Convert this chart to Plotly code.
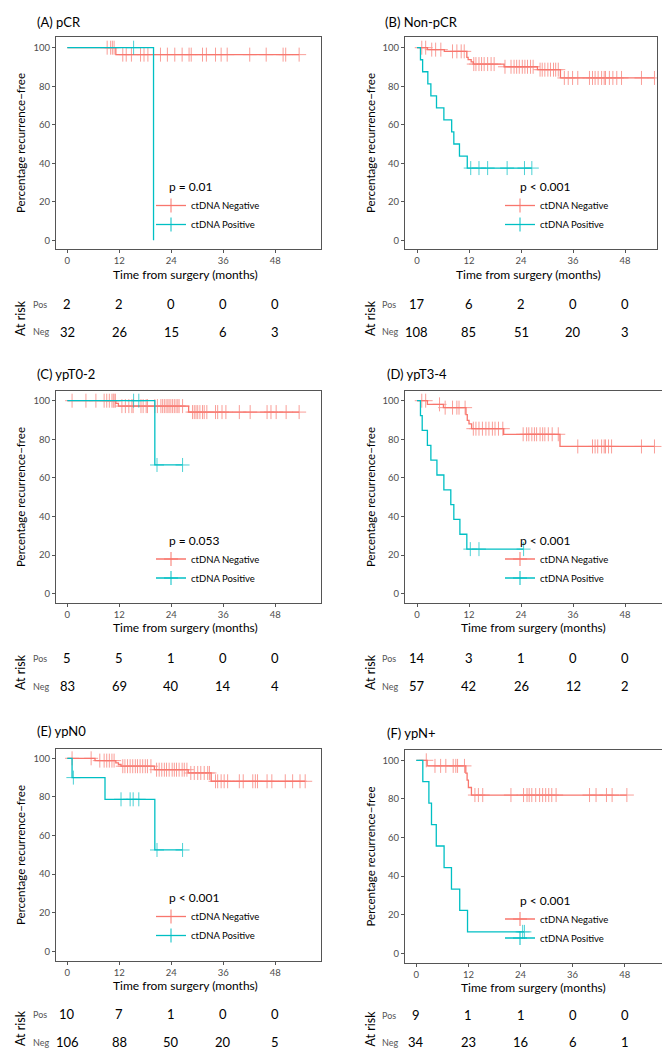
import plotly.graph_objects as go

W, H = 670, 1050
RED = "#F8766D"
CYAN = "#00BFC4"
FONT = "Lato"

x_ticks = [0, 12, 24, 36, 48]
y_ticks = [0, 20, 40, 60, 80, 100]
risk_times = [0, 12, 24, 36, 48]

# ---------------- (A) pCR ----------------
A_neg_event_t = [11.2]
A_neg_event_s = [96.4]
A_neg_cens_t = [9.2, 10.0, 10.4, 10.8, 12.8, 13.6, 14.8, 16.9, 17.7, 18.6, 21.5, 23.1, 24.8,
                26.5, 28.1, 28.6, 31.2, 32.1, 34.2, 35.5, 36.9, 42.1, 45.9, 49.8, 50.4, 53.5]
A_pos_event_t = [19.9]
A_pos_event_s = [0]
A_pos_cens_t = [15.3]
A_risk_pos = [2, 2, 0, 0, 0]
A_risk_neg = [32, 26, 15, 6, 3]
A_p = "p = 0.01"

# ---------------- (B) Non-pCR ----------------
B_neg_event_t = [2.4, 6.3, 11.5, 11.8, 12.5, 13.0, 20.1, 27.8, 33.1]
B_neg_event_s = [99.0, 98.1, 95.0, 93.8, 92.6, 91.5, 90.1, 88.6, 84.3]
B_neg_cens_t = [1.1, 2.0, 3.4, 4.3, 5.5, 8.2, 9.2, 10.2, 10.9,
                13.1, 13.6, 14.3, 14.9, 15.5, 16.3, 17.1, 17.8,
                20.3, 21.7, 22.4, 23.0, 23.6, 24.3, 24.9, 25.5, 26.2, 26.8,
                28.4, 28.9, 29.5, 30.2, 30.8, 31.5, 32.0, 32.6,
                34.0, 34.9, 35.9, 37.1, 39.8, 40.5, 41.1, 41.8, 42.6, 43.2, 43.5, 44.4,
                45.2, 46.1, 47.2, 51.8, 54.8]
B_pos_event_t = [0.8, 1.3, 2.5, 3.2, 4.5, 6.2, 8.0, 8.5, 9.8, 11.6]
B_pos_event_s = [93.75, 87.5, 81.25, 75.0, 68.75, 62.5, 56.25, 50.0, 43.75, 37.5]
B_pos_cens_t = [12.4, 14.3, 16.3, 20.8, 24.8, 26.5]
B_risk_pos = [17, 6, 2, 0, 0]
B_risk_neg = [108, 85, 51, 20, 3]
B_p = "p < 0.001"

# ---------------- (C) ypT0-2 ----------------
C_neg_event_t = [11.2, 11.8, 28.0]
C_neg_event_s = [98.6, 97.2, 94.1]
C_neg_cens_t = [1.1, 4.3, 6.6, 8.5, 9.1, 9.7, 10.3, 10.6, 10.8, 11.1,
                12.6, 13.4, 14.2, 14.9, 15.2, 17.0, 17.5, 18.2, 18.5, 20.2, 20.8, 21.6, 22.0,
                22.4, 22.8, 23.2, 23.5, 23.9, 24.3, 24.7, 25.1, 25.5, 25.8, 26.6,
                28.9, 29.3, 29.7, 30.1, 30.6, 31.2, 31.6, 32.2, 34.2, 34.7, 35.7, 36.6,
                39.7, 42.2, 46.1, 47.0, 48.2, 50.5, 53.5]
C_pos_event_t = [20.2]
C_pos_event_s = [66.7]
C_pos_cens_t = [15.3, 16.5, 20.7, 26.6]
C_risk_pos = [5, 5, 1, 0, 0]
C_risk_neg = [83, 69, 40, 14, 4]
C_p = "p = 0.053"

# ---------------- (D) ypT3-4 ----------------
D_neg_event_t = [2.4, 6.1, 11.3, 11.6, 12.0, 12.6, 20.0, 33.0]
D_neg_event_s = [98.1, 96.4, 92.8, 89.8, 88.0, 85.5, 82.6, 76.3]
D_neg_cens_t = [1.1, 2.0, 5.2, 6.5, 8.2, 9.2, 9.7, 11.1,
                13.0, 13.6, 14.3, 15.1, 15.9, 16.6, 17.4, 18.0, 18.8, 19.8,
                24.5, 25.3, 25.8, 26.5, 27.1, 27.6, 28.4, 29.0, 29.5, 30.3, 31.2, 32.6,
                37.1, 40.5, 41.1, 41.7, 42.6, 43.2, 43.5, 44.2, 44.9, 51.8, 54.8]
D_pos_event_t = [0.8, 1.2, 2.4, 3.2, 4.6, 6.2, 7.8, 8.5, 9.9, 11.5]
D_pos_event_s = [92.3, 84.6, 76.9, 69.2, 61.5, 53.8, 46.2, 38.5, 30.8, 23.1]
D_pos_cens_t = [12.3, 14.3, 24.6]
D_risk_pos = [14, 3, 1, 0, 0]
D_risk_neg = [57, 42, 26, 12, 2]
D_p = "p < 0.001"

# ---------------- (E) ypN0 ----------------
E_neg_event_t = [6.4, 11.2, 11.8, 12.4, 20.1, 27.9, 33.2]
E_neg_event_s = [98.8, 97.6, 96.8, 95.9, 94.1, 92.4, 88.1]
E_neg_cens_t = [1.1, 5.5, 7.5, 8.5, 9.1, 9.7, 10.3, 10.8,
                12.8, 13.3, 13.9, 14.5, 15.1, 15.7, 16.2, 16.8, 17.4, 18.0, 18.5, 19.3,
                20.6, 21.2, 21.8, 22.4, 22.9, 23.5, 24.2, 24.7, 25.2, 25.8, 26.5, 27.0, 27.6,
                28.5, 29.3, 30.1, 30.8, 31.6, 32.4, 32.8,
                34.2, 34.7, 35.5, 36.2, 37.0, 39.7, 40.6, 42.8, 43.4, 43.9, 46.1, 47.2,
                50.3, 52.0, 53.7, 54.9]
E_pos_event_t = [1.1, 8.7, 20.2]
E_pos_event_s = [90.0, 78.75, 52.5]
E_pos_cens_t = [1.4, 12.4, 14.5, 15.2, 16.5, 20.7, 26.6]
E_risk_pos = [10, 7, 1, 0, 0]
E_risk_neg = [106, 88, 50, 20, 5]
E_p = "p < 0.001"

# ---------------- (F) ypN+ ----------------
F_neg_event_t = [2.5, 11.4, 11.7, 12.0, 12.7]
F_neg_event_s = [97.1, 93.4, 89.7, 85.9, 82.0]
F_neg_cens_t = [2.3, 4.3, 5.6, 6.8, 8.5, 9.1, 9.5, 11.1,
                13.5, 14.3, 15.3, 21.8, 24.7, 25.5, 26.0, 26.6, 27.5, 28.4, 29.1, 29.8,
                30.5, 31.2, 32.2, 39.9, 41.4, 43.8, 45.1, 48.5]
F_pos_event_t = [1.5, 2.9, 3.5, 4.6, 6.4, 8.1, 10.0, 11.8]
F_pos_event_s = [88.9, 77.8, 66.7, 55.6, 44.4, 33.3, 22.2, 11.1]
F_pos_cens_t = [24.5, 24.9]
F_risk_pos = [9, 1, 1, 0, 0]
F_risk_neg = [34, 23, 16, 6, 1]
F_p = "p < 0.001"

# ---------------- layout helpers (pixel geometry) ----------------
def PX(p):
    return p / W

def PY(p):
    return 1 - p / H

panels = [
    dict(title="(A) pCR", neg=(A_neg_event_t, A_neg_event_s, A_neg_cens_t),
         pos=(A_pos_event_t, A_pos_event_s, A_pos_cens_t), rp=A_risk_pos, rn=A_risk_neg, p=A_p,
         box=(48, 313, 29, 241), x0=59.3, x48=267.3, y100=39.7, y0=232.3,
         tpos=(27, 14), ytx=12, xty=266, rows=(296, 324), lab_x=23, p_xy=(159, 178),
         leg=(183, 207)),
    dict(title="(B) Non-pCR", neg=(B_neg_event_t, B_neg_event_s, B_neg_cens_t),
         pos=(B_pos_event_t, B_pos_event_s, B_pos_cens_t), rp=B_risk_pos, rn=B_risk_neg, p=B_p,
         box=(397, 649, 29, 241), x0=409, x48=617, y100=39.7, y0=232.3,
         tpos=(375, 14), ytx=362, xty=266, rows=(296, 324), lab_x=372, p_xy=(510, 178),
         leg=(532, 207)),
    dict(title="(C) ypT0-2", neg=(C_neg_event_t, C_neg_event_s, C_neg_cens_t),
         pos=(C_pos_event_t, C_pos_event_s, C_pos_cens_t), rp=C_risk_pos, rn=C_risk_neg, p=C_p,
         box=(48, 313, 383, 595), x0=59.3, x48=267.3, y100=392.7, y0=585.7,
         tpos=(27, 366), ytx=12, xty=619, rows=(650, 678), lab_x=23, p_xy=(159, 532),
         leg=(183, 560.5)),
    dict(title="(D) ypT3-4", neg=(D_neg_event_t, D_neg_event_s, D_neg_cens_t),
         pos=(D_pos_event_t, D_pos_event_s, D_pos_cens_t), rp=D_risk_pos, rn=D_risk_neg, p=D_p,
         box=(397, 660, 383, 595), x0=409, x48=617, y100=392.7, y0=585.7,
         tpos=(377, 366), ytx=362, xty=619, rows=(650, 678), lab_x=372, p_xy=(510, 532),
         leg=(532, 560.5)),
    dict(title="(E) ypN0", neg=(E_neg_event_t, E_neg_event_s, E_neg_cens_t),
         pos=(E_pos_event_t, E_pos_event_s, E_pos_cens_t), rp=E_risk_pos, rn=E_risk_neg, p=E_p,
         box=(48, 313, 741, 953), x0=59.3, x48=267.3, y100=750.3, y0=943.3,
         tpos=(27, 723), ytx=12, xty=977, rows=(1006, 1034), lab_x=23, p_xy=(159, 889),
         leg=(183, 918)),
    dict(title="(F) ypN+", neg=(F_neg_event_t, F_neg_event_s, F_neg_cens_t),
         pos=(F_pos_event_t, F_pos_event_s, F_pos_cens_t), rp=F_risk_pos, rn=F_risk_neg, p=F_p,
         box=(397, 660, 742, 955), x0=408.3, x48=616.7, y100=752.3, y0=945.3,
         tpos=(377, 725), ytx=362, xty=979, rows=(1007, 1034), lab_x=372, p_xy=(510, 892),
         leg=(532, 920.5)),
]


def step_xy(ev_t, ev_s, cens_t):
    end = max([0] + list(ev_t) + list(cens_t))
    xs = [0] + list(ev_t)
    ys = [100] + list(ev_s)
    if end > xs[-1]:
        xs.append(end)
        ys.append(ys[-1])
    return xs, ys


def surv_at(t, ev_t, ev_s):
    s = 100
    for et, es in zip(ev_t, ev_s):
        if et <= t:
            s = es
    return s


fig = go.Figure()
layout = dict(
    width=W, height=H, margin=dict(l=0, r=0, t=0, b=0),
    paper_bgcolor="white", plot_bgcolor="white",
    font=dict(family=FONT, color="black"),
    showlegend=True,
)
annotations = []

for i, pn in enumerate(panels):
    k = "" if i == 0 else str(i + 1)
    xa, ya = "x" + k, "y" + k
    leg = "legend" + k
    L, R, T, B = pn["box"]
    ppm = (pn["x48"] - pn["x0"]) / 48.0
    ppu = (pn["y0"] - pn["y100"]) / 100.0
    xr = [(L - pn["x0"]) / ppm, (R - pn["x0"]) / ppm]
    yr = [-(B - pn["y0"]) / ppu, 100 + (pn["y100"] - T) / ppu]

    layout["xaxis" + k] = dict(
        domain=[PX(L), PX(R)], anchor=ya, range=xr, tickvals=x_ticks,
        showgrid=False, zeroline=False, showline=True, mirror=True,
        linecolor="#555555", linewidth=1, ticks="outside", ticklen=3,
        tickcolor="#555555", tickfont=dict(size=9.5, color="#4D4D4D", family=FONT),
    )
    layout["yaxis" + k] = dict(
        domain=[PY(B), PY(T)], anchor=xa, range=yr, tickvals=y_ticks,
        showgrid=False, zeroline=False, showline=True, mirror=True,
        linecolor="#555555", linewidth=1, ticks="outside", ticklen=3,
        tickcolor="#555555", tickfont=dict(size=9.5, color="#4D4D4D", family=FONT),
    )

    for (ev_t, ev_s, cens_t), col, name in [(pn["neg"], RED, "ctDNA Negative"),
                                             (pn["pos"], CYAN, "ctDNA Positive")]:
        xs, ys = step_xy(ev_t, ev_s, cens_t)
        fig.add_trace(go.Scatter(
            x=xs, y=ys, mode="lines", line=dict(color=col, width=1.3, shape="hv"),
            xaxis=xa, yaxis=ya, showlegend=False, hoverinfo="skip"))
        fig.add_trace(go.Scatter(
            x=cens_t, y=[surv_at(t, ev_t, ev_s) for t in cens_t], mode="markers",
            marker=dict(symbol="cross-thin", size=10, color=col,
                        line=dict(color=col, width=1)),
            opacity=0.7, xaxis=xa, yaxis=ya, showlegend=False, hoverinfo="skip"))
        # legend key
        fig.add_trace(go.Scatter(
            x=[None], y=[None], mode="lines+markers", name=name,
            line=dict(color=col, width=1.3),
            marker=dict(symbol="cross-thin", size=10, color=col,
                        line=dict(color=col, width=1)),
            xaxis=xa, yaxis=ya, legend=leg, showlegend=True))

    lx, ly = pn["leg"]
    layout[leg] = dict(
        x=PX(lx - 40), y=PY(ly), xanchor="left", yanchor="middle",
        bgcolor="rgba(0,0,0,0)", itemwidth=30, tracegroupgap=0,
        font=dict(size=9.5, family=FONT, color="black"),
    )

    # title
    annotations.append(dict(x=PX(pn["tpos"][0]), y=PY(pn["tpos"][1]), xref="paper", yref="paper",
                            text=pn["title"], showarrow=False, xanchor="left", yanchor="middle",
                            font=dict(size=13, family=FONT)))
    # y title
    annotations.append(dict(x=PX(pn["ytx"]), y=PY((T + B) / 2), xref="paper", yref="paper",
                            text="Percentage recurrence\u2212free", textangle=-90, showarrow=False,
                            xanchor="center", yanchor="middle", font=dict(size=11.5, family=FONT)))
    # x title
    annotations.append(dict(x=PX((L + R) / 2 - 3), y=PY(pn["xty"]), xref="paper", yref="paper",
                            text="Time from surgery (months)", showarrow=False,
                            xanchor="center", yanchor="middle", font=dict(size=12, family=FONT)))
    # p value
    annotations.append(dict(x=PX(pn["p_xy"][0]), y=PY(pn["p_xy"][1]), xref="paper", yref="paper",
                            text=pn["p"], showarrow=False, xanchor="left", yanchor="middle",
                            font=dict(size=12, family=FONT)))
    # risk table
    r1, r2 = pn["rows"]
    annotations.append(dict(x=PX(pn["ytx"]), y=PY((r1 + r2) / 2), xref="paper", yref="paper",
                            text="At risk", textangle=-90, showarrow=False,
                            xanchor="center", yanchor="middle", font=dict(size=12.5, family=FONT)))
    for lab, yy in [("Pos", r1), ("Neg", r2)]:
        annotations.append(dict(x=PX(pn["lab_x"]), y=PY(yy), xref="paper", yref="paper",
                                text=lab, showarrow=False, xanchor="left", yanchor="middle",
                                font=dict(size=9, family=FONT, color="#555555")))
    for t, vp, vn in zip(risk_times, pn["rp"], pn["rn"]):
        annotations.append(dict(x=t, y=PY(r1), xref=xa, yref="paper", text=str(vp),
                                showarrow=False, xanchor="center", yanchor="middle",
                                font=dict(size=13, family=FONT)))
        annotations.append(dict(x=t, y=PY(r2), xref=xa, yref="paper", text=str(vn),
                                showarrow=False, xanchor="center", yanchor="middle",
                                font=dict(size=13, family=FONT)))

layout["annotations"] = annotations
fig.update_layout(**layout)
fig.write_html("out.html")
